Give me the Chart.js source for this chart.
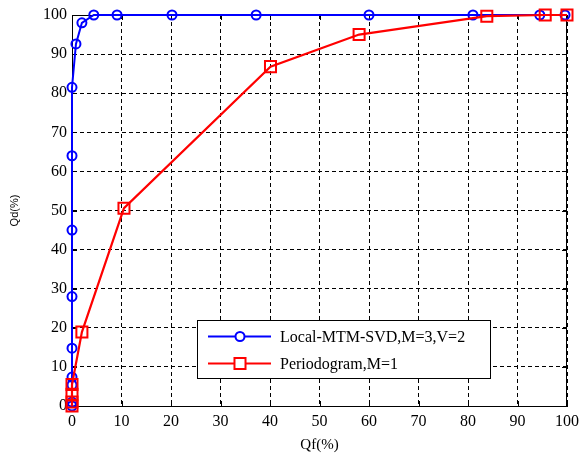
<!DOCTYPE html>
<html>
<head>
<meta charset="utf-8">
<script src="https://cdn.jsdelivr.net/npm/chart.js@4/dist/chart.umd.min.js"></script>
<style>
html,body{margin:0;padding:0;background:#fff;}
#wrap{position:relative;width:579px;height:455px;}
</style>
</head>
<body>
<div id="wrap"><canvas id="c" width="579" height="455"></canvas></div>
<script>
// Series: Local-MTM-SVD, M=3, V=2
const mtmQf = [0, 0, 0, 0, 0, 0, 0, 0, 0, 0.8, 2.0, 4.4, 9.1, 20.2, 37.2, 60, 81, 94.5, 99.6];
const mtmQd = [0, 1, 5.4, 7.4, 14.8, 28, 45, 64, 81.5, 92.6, 98, 100, 100, 100, 100, 100, 100, 100, 100];
// Series: Periodogram, M=1
const perQf = [0, 0, 0, 0, 2.0, 10.5, 40.1, 58, 83.8, 95.6, 100];
const perQd = [0, 1, 3, 5.5, 18.9, 50.6, 86.8, 95, 99.7, 100, 100];
// Axis ticks
const xTicks = [0, 10, 20, 30, 40, 50, 60, 70, 80, 90, 100];
const yTicks = [0, 10, 20, 30, 40, 50, 60, 70, 80, 90, 100];
const seriesNames = ['Local-MTM-SVD,M=3,V=2', 'Periodogram,M=1'];
const xTitle = 'Qf(%)';
const yTitle = 'Qd(%)';

const toPts = (xs, ys) => xs.map((x, i) => ({x: x, y: ys[i]}));

const SERIF = "'Liberation Serif', 'Times New Roman', serif";

const framePlugin = {
  id: 'frame',
  beforeDatasetsDraw(chart) {
    const {ctx, chartArea: a, scales} = chart;
    ctx.save();
    ctx.strokeStyle = '#000';
    ctx.lineWidth = 1;
    ctx.setLineDash([]);
    ctx.beginPath();
    ctx.moveTo(a.left, a.top + 0.5); ctx.lineTo(a.right, a.top + 0.5);
    ctx.moveTo(a.right - 0.5, a.top); ctx.lineTo(a.right - 0.5, a.bottom);
    const t = 5;
    xTicks.forEach(v => {
      const px = Math.round(scales.x.getPixelForValue(v)) + 0.5;
      ctx.moveTo(px, a.bottom); ctx.lineTo(px, a.bottom - t);
      ctx.moveTo(px, a.top); ctx.lineTo(px, a.top + t);
    });
    yTicks.forEach(v => {
      const py = Math.round(scales.y.getPixelForValue(v)) + 0.5;
      ctx.moveTo(a.left, py); ctx.lineTo(a.left + t, py);
      ctx.moveTo(a.right, py); ctx.lineTo(a.right - t, py);
    });
    ctx.stroke();
    ctx.restore();
  },
  afterDraw(chart) {
    const {ctx} = chart;
    const bx = 197, by = 320, bw = 293, bh = 58;
    ctx.save();
    ctx.fillStyle = '#fff';
    ctx.fillRect(bx, by, bw, bh);
    ctx.strokeStyle = '#000';
    ctx.lineWidth = 1;
    ctx.setLineDash([]);
    ctx.strokeRect(bx + 0.5, by + 0.5, bw, bh);
    const rows = [
      {y: 336.5, color: '#0000ff', style: 'circle', r: 4.5},
      {y: 363.5, color: '#ff0000', style: 'rect', r: 7.8}
    ];
    rows.forEach((row, i) => {
      ctx.strokeStyle = row.color;
      ctx.lineWidth = 2;
      ctx.beginPath();
      ctx.moveTo(208, row.y); ctx.lineTo(271, row.y);
      ctx.stroke();
      ctx.fillStyle = '#fff';
      Chart.helpers.drawPoint(ctx, {pointStyle: row.style, radius: row.r, rotation: 0, borderWidth: 2}, 240, row.y);
      ctx.fillStyle = '#000';
      ctx.font = "16px " + SERIF;
      ctx.textBaseline = 'middle';
      ctx.textAlign = 'left';
      ctx.fillText(seriesNames[i], 280, row.y + 1);
    });
    ctx.restore();
  }
};

new Chart(document.getElementById('c'), {
  type: 'scatter',
  data: {
    datasets: [
      {
        label: seriesNames[0],
        data: toPts(mtmQf, mtmQd),
        showLine: true,
        borderColor: '#0000ff',
        backgroundColor: 'rgba(0,0,0,0)',
        borderWidth: 2,
        pointStyle: 'circle',
        pointRadius: 4.5,
        pointBorderWidth: 2,
        pointBorderColor: '#0000ff',
        pointBackgroundColor: 'rgba(0,0,0,0)',
        clip: false,
        order: 1
      },
      {
        label: seriesNames[1],
        data: toPts(perQf, perQd),
        showLine: true,
        borderColor: '#ff0000',
        backgroundColor: 'rgba(0,0,0,0)',
        borderWidth: 2.2,
        pointStyle: 'rect',
        pointRadius: 7.8,
        pointBorderWidth: 2,
        pointBorderColor: '#ff0000',
        pointBackgroundColor: 'rgba(0,0,0,0)',
        clip: false,
        order: 0
      }
    ]
  },
  options: {
    responsive: false,
    animation: false,
    events: [],
    layout: {padding: {top: 15, right: 12, left: 0, bottom: 0}},
    plugins: {legend: {display: false}, tooltip: {enabled: false}},
    scales: {
      x: {
        type: 'linear', min: 0, max: 100,
        afterBuildTicks: s => { s.ticks = xTicks.map(v => ({value: v})); },
        afterFit: s => { s.height = 49; s.paddingLeft = 0; s.paddingRight = 0; },
        ticks: {color: '#000', font: {family: SERIF, size: 16}, padding: 6, maxRotation: 0},
        grid: {color: '#000', lineWidth: 1, drawTicks: false},
        border: {display: true, color: '#000', width: 1, dash: [4, 3]},
        title: {display: true, text: xTitle, color: '#000', font: {family: SERIF, size: 15}, padding: {top: 0, bottom: 1}}
      },
      y: {
        type: 'linear', min: 0, max: 100,
        afterBuildTicks: s => { s.ticks = yTicks.map(v => ({value: v})); },
        afterFit: s => { s.width = 72; s.paddingTop = 0; s.paddingBottom = 0; },
        ticks: {color: '#000', font: {family: SERIF, size: 16}, padding: 5},
        grid: {color: '#000', lineWidth: 1, drawTicks: false},
        border: {display: true, color: '#000', width: 1, dash: [4, 3]},
        title: {display: true, text: yTitle, color: '#000', font: {family: "'Liberation Sans', sans-serif", size: 11}, padding: {top: 8, bottom: 0}}
      }
    }
  },
  plugins: [framePlugin]
});
</script>
</body>
</html>
